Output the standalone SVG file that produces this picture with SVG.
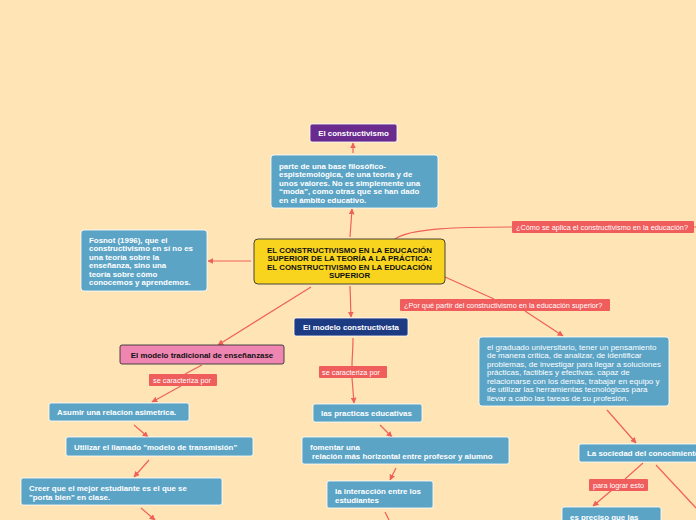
<svg xmlns="http://www.w3.org/2000/svg" width="696" height="520" viewBox="0 0 696 520">
<defs>
<marker id="ah" viewBox="0 0 10 10" refX="9" refY="5" markerWidth="6" markerHeight="6" orient="auto" markerUnits="userSpaceOnUse"><path d="M0,0 L10,5 L0,10 z" fill="#f0605a"/></marker>
</defs>
<style>
.bg{fill:#ffe5b5}
.c{fill:none;stroke:#f0605a;stroke-width:1.2}
.blue{fill:#5ba4c6;stroke:#ffffff;stroke-width:0.8}
.lbl{fill:#ef5d5d}
.t{font-family:"Liberation Sans",Arial,sans-serif;font-size:7.9px;font-weight:bold;fill:#ffffff}
.tk{font-family:"Liberation Sans",Arial,sans-serif;font-size:7.9px;font-weight:bold;fill:#111111}
.tn{font-family:"Liberation Sans",Arial,sans-serif;font-size:8px;fill:#ffffff}
.tl{font-family:"Liberation Sans",Arial,sans-serif;font-size:7.3px;fill:#ffffff}
</style>
<rect class="bg" x="0" y="0" width="696" height="520"/>
<g id="connectors">
<path class="c" d="M353,153 L353,143" marker-end="url(#ah)"/>
<path class="c" d="M350,237 L352,209" marker-end="url(#ah)"/>
<path class="c" d="M251,261 L208,261" marker-end="url(#ah)"/>
<path class="c" d="M395,239 C410,228 460,227 512,227"/>
<path class="c" d="M694,227 L696,227"/>
<path class="c" d="M445,277 L494,299"/>
<path class="c" d="M525,311 L563,336" marker-end="url(#ah)"/>
<path class="c" d="M350,286 L351,317" marker-end="url(#ah)"/>
<path class="c" d="M311,287 L218,345" marker-end="url(#ah)"/>
<path class="c" d="M202,365 L185,374"/>
<path class="c" d="M181,386 L152,402" marker-end="url(#ah)"/>
<path class="c" d="M353,338 C353,350 352,358 352,366"/>
<path class="c" d="M352,378 L354,403" marker-end="url(#ah)"/>
<path class="c" d="M134,425 L148,437" marker-end="url(#ah)"/>
<path class="c" d="M149,460 L134,477" marker-end="url(#ah)"/>
<path class="c" d="M141,508 L155,520" marker-end="url(#ah)"/>
<path class="c" d="M380,425 L392,437" marker-end="url(#ah)"/>
<path class="c" d="M396,468 L390,480" marker-end="url(#ah)"/>
<path class="c" d="M385,512 L389,520"/>
<path class="c" d="M607,410 L636,443" marker-end="url(#ah)"/>
<path class="c" d="M643,463 L625,479"/>
<path class="c" d="M612,490 L593,506" marker-end="url(#ah)"/>
<path class="c" d="M656,465 L696,508"/>
</g>
<g id="n-constructivismo">
<rect x="310" y="124" width="87" height="18" rx="2" fill="#6a2b8e" stroke="#ffffff" stroke-width="0.8"/>
<text class="t" x="353.5" y="136" text-anchor="middle">El constructivismo</text>
</g>
<g id="n-base">
<rect class="blue" x="271" y="155" width="167" height="53" rx="3"/>
<text class="t" x="279" y="168.5">parte de una base filosófico-</text>
<text class="t" x="279" y="177">espistemológica, de una teoría y de</text>
<text class="t" x="279" y="185.5">unos valores. No es simplemente una</text>
<text class="t" x="279" y="194">“moda”, como otras que se han dado</text>
<text class="t" x="279" y="202.5">en el ámbito educativo.</text>
</g>
<g id="n-central">
<rect x="254" y="239" width="191" height="45" rx="4" fill="#f8d41f" stroke="#333333" stroke-width="0.9"/>
<text class="tk" x="349.5" y="252.5" text-anchor="middle">EL CONSTRUCTIVISMO EN LA EDUCACIÓN</text>
<text class="tk" x="349.5" y="261" text-anchor="middle">SUPERIOR DE LA TEORÍA A LA PRÁCTICA:</text>
<text class="tk" x="349.5" y="269.5" text-anchor="middle">EL CONSTRUCTIVISMO EN LA EDUCACIÓN</text>
<text class="tk" x="349.5" y="278" text-anchor="middle">SUPERIOR</text>
</g>
<g id="n-fosnot">
<rect class="blue" x="81" y="230" width="126" height="61" rx="3"/>
<text class="t" x="89" y="242.5">Fosnot (1996), que el</text>
<text class="t" x="89" y="251">constructivismo en sí no es</text>
<text class="t" x="89" y="259.5">una teoría sobre la</text>
<text class="t" x="89" y="268">enseñanza, sino una</text>
<text class="t" x="89" y="276.5">teoría sobre cómo</text>
<text class="t" x="89" y="285">conocemos y aprendemos.</text>
</g>
<g id="l-como">
<rect class="lbl" x="512" y="221" width="182" height="12" rx="1"/>
<text class="tl" x="516" y="229.5">¿Cómo se aplica el constructivismo en la educación?</text>
</g>
<g id="l-porque">
<rect class="lbl" x="400" y="299" width="210" height="12" rx="1"/>
<text class="tl" x="404" y="307.5">¿Por qué partir del constructivismo en la educación superior?</text>
</g>
<g id="n-modelo-constructivista">
<rect x="294" y="318" width="114" height="18" rx="2" fill="#1d3b82" stroke="#ffffff" stroke-width="0.8"/>
<text class="t" x="351" y="330" text-anchor="middle">El modelo constructivista</text>
</g>
<g id="n-modelo-tradicional">
<rect x="120" y="345" width="164" height="19" rx="2" fill="#ef86b1" stroke="#333333" stroke-width="0.9"/>
<text class="tk" x="202" y="357.5" text-anchor="middle">El modelo tradicional de enseñanzase</text>
</g>
<g id="l-caracteriza1">
<rect class="lbl" x="149" y="374" width="68" height="12" rx="1"/>
<text class="tl" x="153" y="382.5">se caracteriza por</text>
</g>
<g id="l-caracteriza2">
<rect class="lbl" x="319" y="366" width="68" height="12" rx="1"/>
<text class="tl" x="322" y="374.5">se caracteriza por</text>
</g>
<g id="n-asimetrica">
<rect class="blue" x="49" y="403" width="140" height="18" rx="2"/>
<text class="t" x="57" y="415">Asumir una relacion asimetrica.</text>
</g>
<g id="n-transmision">
<rect class="blue" x="66" y="437" width="187" height="19" rx="2"/>
<text class="t" x="74" y="449.5">Utilizar el llamado "modelo de transmisión"</text>
</g>
<g id="n-porta">
<rect class="blue" x="21" y="478" width="201" height="27" rx="2"/>
<text class="t" x="29" y="490.5">Creer que el mejor estudiante es el que se</text>
<text class="t" x="29" y="499.5">"porta bien" en clase.</text>
</g>
<g id="n-practicas">
<rect class="blue" x="313" y="404" width="109" height="18" rx="2"/>
<text class="t" x="321" y="416">las practicas educativas</text>
</g>
<g id="n-horizontal">
<rect class="blue" x="302" y="437" width="207" height="27" rx="2"/>
<text class="t" x="310" y="450">fomentar una</text>
<text class="t" x="312" y="458.5">relación más horizontal entre profesor y alumno</text>
</g>
<g id="n-interaccion">
<rect class="blue" x="327" y="481" width="106" height="27" rx="2"/>
<text class="t" x="335" y="493.5">la interacción entre los</text>
<text class="t" x="335" y="502.5">estudiantes</text>
</g>
<g id="n-graduado">
<rect class="blue" x="479" y="337" width="190" height="69" rx="3"/>
<text class="tn" x="487" y="349.5">el graduado universitario, tener un  pensamiento</text>
<text class="tn" x="487" y="358">de manera crítica, de analizar, de identificar</text>
<text class="tn" x="487" y="366.5">problemas, de investigar para llegar a soluciones</text>
<text class="tn" x="487" y="375">prácticas, factibles y efectivas. capaz de</text>
<text class="tn" x="487" y="383.5">relacionarse con los demás, trabajar en equipo y</text>
<text class="tn" x="487" y="392">de utilizar las herramientas tecnológicas para</text>
<text class="tn" x="487" y="400.5">llevar a cabo las tareas de su profesión.</text>
</g>
<g id="n-sociedad">
<rect class="blue" x="579" y="444" width="130" height="18" rx="2"/>
<text class="t" x="587" y="456">La sociedad del conocimiento</text>
</g>
<g id="l-lograr">
<rect class="lbl" x="589" y="479" width="59" height="12" rx="1"/>
<text class="tl" x="593" y="487.5">para lograr esto</text>
</g>
<g id="n-preciso">
<rect class="blue" x="562" y="507" width="99" height="20" rx="2"/>
<text class="t" x="570" y="519.5">es preciso que las</text>
</g>
</svg>
